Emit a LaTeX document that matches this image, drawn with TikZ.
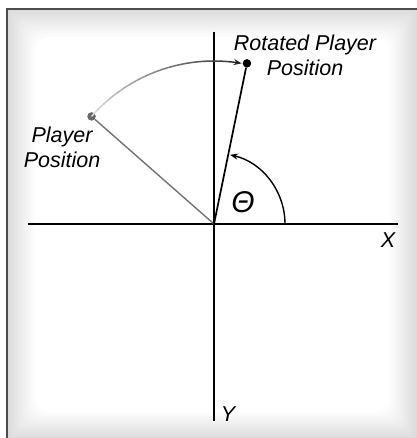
\documentclass[tikz,border=0pt]{standalone}
\usepackage{fontspec}
\setmainfont{Liberation Sans}
\usetikzlibrary{arrows.meta,calc}

\begin{document}
\begin{tikzpicture}[
  x=1pt, y=1pt,
  axis/.style={line width=1.7pt, black},
  lbl/.style={font=\fontsize{21.5}{25}\selectfont\itshape, align=center, inner sep=0pt},
  dot/.style={circle, fill, inner sep=0pt, minimum size=8.5pt},
  arr/.style={-{Stealth[length=8pt, width=6pt]}, line width=1.4pt}
]
\useasboundingbox (-214,-214) rectangle (202,224);
\fill[white] (-214,-214) rectangle (202,224);

% vignette inside the frame
\foreach \i in {0,...,14} {
  \pgfmathsetmacro\shade{14-\i}
  \fill[black!\shade, rounded corners=\i pt] (-207+2*\i,-216+2*\i) rectangle (204-2*\i,215-2*\i);
}
\draw[line width=2pt, black!70] (-207,-216) -- (-207,215) -- (204,215);

\coordinate (O) at (0,0);

% axes
\draw[axis] (-186,0) coordinate (xl) -- (184,0) coordinate (xr);
\draw[axis] (0,192) coordinate (yt) -- (0,-197) coordinate (yb);
\node[lbl] (xlab) at (174,-16) {X};
\node[lbl] (ylab) at (14,-190) {Y};

% player and rotated player
\node[dot, black!60] (pl) at (138.7:163) {};
\node[dot, black] (rot) at (78.4:164) {};
\draw[line width=1.4pt, black!55] (O) -- (pl);
\draw[line width=1.7pt, black] (O) -- (rot);

\node[lbl] (pllab) at (-152,77) {Player\\Position};
\node[lbl] (rotlab) at (91,169) {Rotated Player\\Position};

% rotation arc, light to dark
\foreach \i in {0,...,17} {
  \pgfmathsetmacro\shade{15+\i*3.6}
  \draw[line width=1.5pt, black!\shade] (138.7-\i*3:163) arc[start angle=138.7-\i*3, end angle=138.7-\i*3-3.2, radius=163];
}
\draw[arr, black!85] (84.7:163) arc[start angle=84.7, end angle=80.2, radius=163];

% angle
\draw[arr] (71,0) arc[start angle=0, end angle=77, radius=71];
\node[lbl, font=\fontsize{30}{32}\selectfont\itshape] (theta) at (29,22) {Θ};
\end{tikzpicture}
\end{document}
